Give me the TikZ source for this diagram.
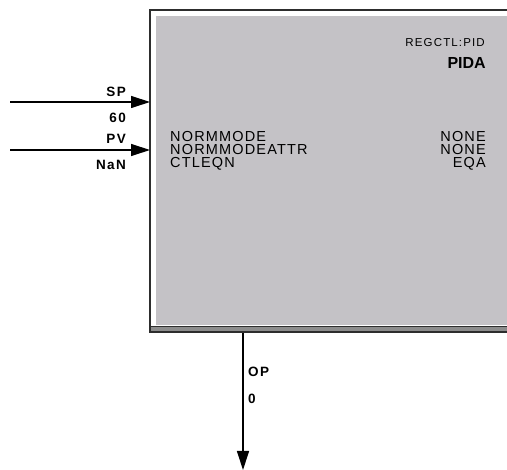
\documentclass[tikz,border=0pt]{standalone}
\usepackage{fontspec}
\setmainfont{Liberation Sans}
\usetikzlibrary{arrows.meta,positioning}
\definecolor{faceGray}{RGB}{196,194,198}
\definecolor{bandGray}{RGB}{140,140,140}
\definecolor{edgeGray}{RGB}{45,45,45}
\tikzset{
  pinlbl/.style={font=\fontsize{13.5}{13.5}\selectfont\bfseries\addfontfeatures{LetterSpace=10}, inner sep=0pt},
  parlbl/.style={font=\fontsize{14.5}{13}\selectfont\addfontfeatures{LetterSpace=8}, inner sep=0pt},
  wire/.style={line width=1.2pt, -{Triangle[length=19pt,width=12pt]}},
}
\begin{document}
\begin{tikzpicture}[x=1pt,y=-1pt]
\useasboundingbox (0,0) rectangle (507,470);
% block
\fill[faceGray] (156,16) rectangle (507,325);
\draw[white, line width=1.5pt] (153,326) -- (153,13) -- (507,13);
\fill[bandGray] (151,326) rectangle (507,332);
\draw[edgeGray, line width=1.5pt] (151,326.5) -- (507,326.5);
\draw[edgeGray, line width=1.5pt] (150,332) -- (507,332);
\draw[edgeGray, line width=2pt] (150,333) -- (150,10) -- (507,10);
\coordinate (pida-nw) at (150,10);
\coordinate (pida-s) at (243,333);
\node[font=\fontsize{11.5}{11.5}\selectfont\addfontfeatures{LetterSpace=10}, inner sep=0pt, anchor=base east] (tag) at (485,47) {REGCTL:PID};
\node[font=\fontsize{16}{16}\selectfont\bfseries, inner sep=0pt, anchor=base east] (name) at (486,69) {PIDA};
\node[parlbl, align=left, anchor=north west] (params) at (170,131.5) {NORMMODE\\NORMMODEATTR\\CTLEQN};
\node[parlbl, align=right, anchor=north east] (values) at (486,131.5) {NONE\\NONE\\EQA};
% inputs
\coordinate (sp-in) at (10,102);
\coordinate (pv-in) at (10,150);
\draw[wire] (sp-in) -- (sp-in -| pida-nw);
\draw[wire] (pv-in) -- (pv-in -| pida-nw);
\node[pinlbl, anchor=base east] (sp) at (126,97) {SP};
\node[pinlbl, anchor=base east] (spv) at (126,123) {60};
\node[pinlbl, anchor=base east] (pv) at (126,144) {PV};
\node[pinlbl, anchor=base east] (pvv) at (126,170) {NaN};
% output
\coordinate (op-out) at (243,470);
\draw[wire] (pida-s) -- (op-out);
\node[pinlbl, anchor=base west] (op) at (248,377) {OP};
\node[pinlbl, anchor=base west] (opv) at (248,404) {0};
\end{tikzpicture}
\end{document}
